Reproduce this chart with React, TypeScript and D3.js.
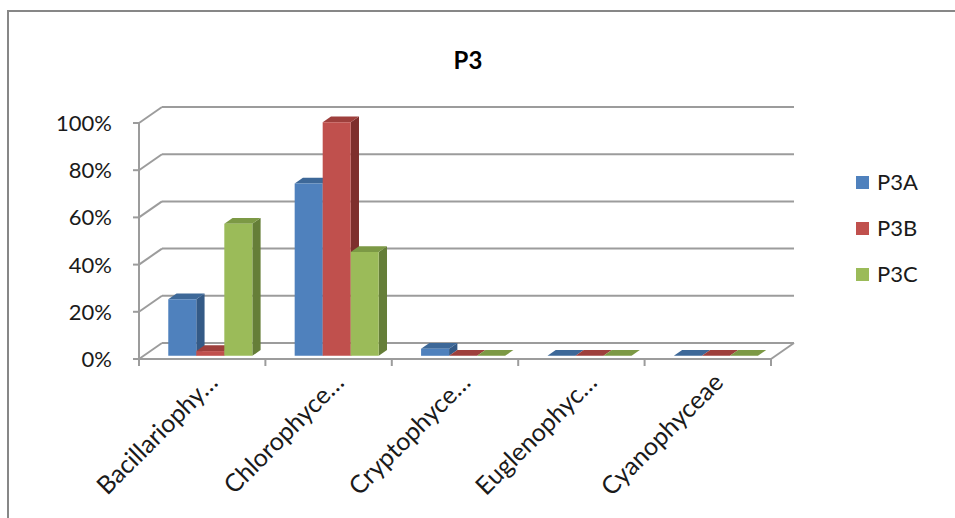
import React from "react";
import * as d3 from "d3";

const categories = ["Bacillariophy…", "Chlorophyce…", "Cryptophyce…", "Euglenophyc…", "Cyanophyceae"];
const seriesNames = ["P3A", "P3B", "P3C"];
const p3a = [0.24, 0.73, 0.03, 0, 0];
const p3b = [0.02, 0.99, 0, 0, 0];
const p3c = [0.56, 0.44, 0, 0, 0];
const yTicks = [0, 0.2, 0.4, 0.6, 0.8, 1.0];
const title = "P3";

const seriesValues = [p3a, p3b, p3c];
const frontColors = ["#4F81BD", "#C0504D", "#9BBB59"];
const topColors = ["#3D6898", "#9E3F3C", "#7C9945"];
const sideColors = ["#345A86", "#7E2F2D", "#657E38"];

const W = 955;
const H = 518;
const FONT = "Lato, 'Open Sans', sans-serif";

export default function App() {
  const x0 = 139;
  const x1 = 771;
  const yFloor = 359;
  const yTop = 123;
  const DX = 23;
  const DY = -16;
  const f0 = 0.2; // bar front depth fraction
  const fd = 0.36; // bar depth fraction
  const shift = 3.5;

  const y = d3.scaleLinear().domain([0, 1]).range([yFloor, yTop]);
  const xBand = d3
    .scaleBand<string>()
    .domain(categories)
    .range([x0, x1])
    .paddingInner(0.335)
    .paddingOuter(0.335 / 2);
  const xInner = d3
    .scaleBand<string>()
    .domain(seriesNames)
    .range([0, xBand.bandwidth()])
    .padding(0);

  const grid = "#9C9C9C";
  const pt = (px: number, py: number, f: number) => [px + DX * f, py + DY * f];
  const poly = (pts: number[][]) => pts.map((p) => p.join(",")).join(" ");

  const bars: JSX.Element[] = [];
  categories.forEach((c, ci) => {
    seriesNames.forEach((s, si) => {
      const v = seriesValues[si][ci];
      const bx = (xBand(c) as number) + (xInner(s) as number) + shift;
      const bw = xInner.bandwidth();
      const yb = y(0);
      const yt = y(v);
      const fa = f0;
      const fb = f0 + fd;
      const front = [pt(bx, yb, fa), pt(bx + bw, yb, fa), pt(bx + bw, yt, fa), pt(bx, yt, fa)];
      const side = [pt(bx + bw, yb, fa), pt(bx + bw, yb, fb), pt(bx + bw, yt, fb), pt(bx + bw, yt, fa)];
      const top = [pt(bx, yt, fa), pt(bx + bw, yt, fa), pt(bx + bw, yt, fb), pt(bx, yt, fb)];
      bars.push(
        <g key={`${c}-${s}`}>
          <polygon points={poly(side)} fill={sideColors[si]} />
          <polygon points={poly(top)} fill={topColors[si]} />
          <polygon points={poly(front)} fill={frontColors[si]} />
        </g>
      );
    });
  });

  const catTicks = d3.range(categories.length + 1).map((i) => x0 + (i * (x1 - x0)) / categories.length);

  return (
    <svg
      width={W}
      height={H}
      style={{ position: "absolute", left: 0, top: 0, background: "#fff" }}
      fontFamily={FONT}
    >
      <rect x={0} y={0} width={W} height={H} fill="#fff" />
      <rect x={8} y={11} width={W + 20} height={H + 20} fill="#fff" stroke="#878787" strokeWidth={2} />
      <text x={468} y={69} textAnchor="middle" fontSize={24} fontWeight="bold" fill="#000">
        {title}
      </text>

      {yTicks.map((t) => {
        const yy = y(t);
        return (
          <g key={`g${t}`}>
            <line x1={x0 + DX} y1={yy + DY} x2={x1 + DX} y2={yy + DY} stroke={grid} strokeWidth={2} />
            <line x1={x0} y1={yy} x2={x0 + DX} y2={yy + DY} stroke={grid} strokeWidth={2} />
            <line x1={x0 - 6} y1={yy} x2={x0} y2={yy} stroke={grid} strokeWidth={2} />
            <text x={x0 - 27} y={yy} dy="0.36em" textAnchor="end" fontSize={22} fill="#1a1a1a">
              {d3.format(".0%")(t)}
            </text>
          </g>
        );
      })}
      <line x1={x1} y1={yFloor} x2={x1 + DX} y2={yFloor + DY} stroke={grid} strokeWidth={2} />
      <line x1={x0} y1={yTop} x2={x0} y2={yFloor} stroke={grid} strokeWidth={2} />
      <line x1={x0} y1={yFloor} x2={x1} y2={yFloor} stroke={grid} strokeWidth={2} />
      {catTicks.map((tx, i) => (
        <line key={`t${i}`} x1={tx} y1={yFloor} x2={tx} y2={yFloor + 7} stroke={grid} strokeWidth={2} />
      ))}

      {bars}

      {categories.map((c, i) => {
        const cx = (xBand(c) as number) + xBand.bandwidth() / 2;
        return (
          <text
            key={`l${i}`}
            transform={`translate(${cx + 17},${yFloor + 25}) rotate(-45)`}
            textAnchor="end"
            fontSize={25}
            fill="#1a1a1a"
          >
            {c}
          </text>
        );
      })}

      {seriesNames.map((s, i) => (
        <g key={`lg${s}`} transform={`translate(856,${182 + i * 46})`}>
          <rect x={0} y={-6} width={13} height={13} fill={frontColors[i]} />
          <text x={21} y={0} dy="0.36em" fontSize={22} fill="#1a1a1a">
            {s}
          </text>
        </g>
      ))}
    </svg>
  );
}
